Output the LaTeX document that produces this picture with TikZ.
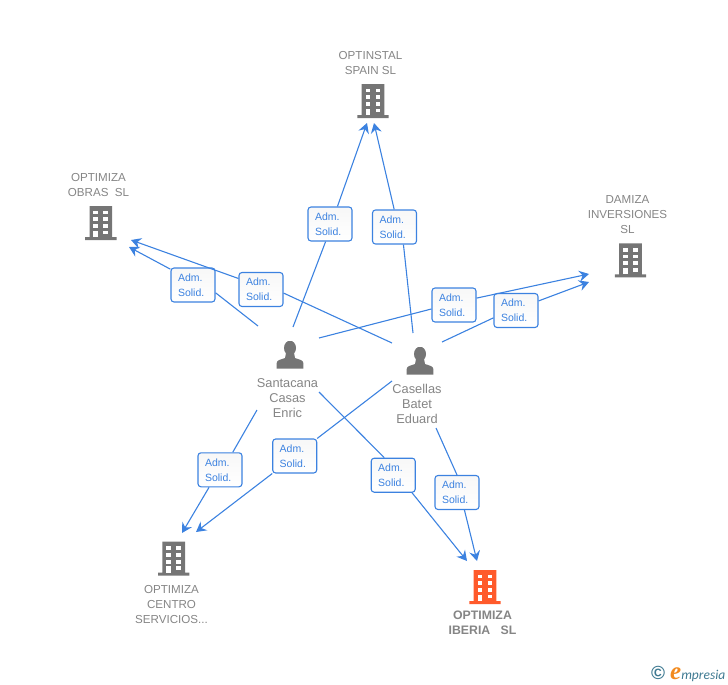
\documentclass[tikz,border=0pt]{standalone}
\usepackage{fontspec}
\setmainfont{Liberation Sans}
\newfontfamily\logofont{Liberation Serif}
\newfontfamily\logosans{Carlito}
\usetikzlibrary{arrows.meta}
\definecolor{linkblue}{HTML}{3C82E0}
\definecolor{iconGray}{HTML}{757575}
\definecolor{textGray}{HTML}{858585}
\definecolor{hotOrange}{HTML}{FF5A2B}
\definecolor{logoTeal}{HTML}{3F7A92}
\definecolor{logoOrange}{HTML}{F28A1E}

\begin{document}
\begin{tikzpicture}[x=1pt,y=-1pt,
tower/.style = {minimum width=32, minimum height=34, inner sep=0,
	path picture={
	\begin{scope}[shift={(path picture bounding box.center)}]
	\fill[#1] (-11.3,-17) rectangle (11.3,14) (-15.7,14) rectangle (15.7,17);
	\fill[white] (-7.4,7.6) rectangle (-2.6,14);
	\foreach \wy in {-12.4,-5.7,1} {
		\fill[white] (-7.4,\wy) rectangle ++(4.8,3.8);
		\fill[white] (2.6,\wy) rectangle ++(4.8,3.8);
	}
	\fill[white] (2.6,7.6) rectangle ++(4.8,3.8);
	\end{scope}}},
person/.style = {minimum width=28, minimum height=28, inner sep=0,
	path picture={
	\begin{scope}[shift={(path picture bounding box.center)}]
	\fill[iconGray] (0,-7) ellipse (6 and 7.3);
	\fill[iconGray] (-13.3,13.5) -- (-13.3,8) .. controls (-13.3,5) and (-9,4.5) .. (-5,3) -- (-4,-2)
		-- (4,-2) -- (5,3) .. controls (9,4.5) and (13.3,5) .. (13.3,8) -- (13.3,13.5) -- cycle;
	\end{scope}}},
solid/.style = {draw=linkblue, line width=1.1, top color=black!3, bottom color=white, rounded corners=3,
	minimum height=34, text width=30, inner xsep=7, inner ysep=2, align=left,
	text=linkblue, font=\fontsize{10.5}{15}\selectfont},
link/.style = {draw=linkblue, line width=1.1},
tip/.style = {link, -{Stealth[length=10,width=11,inset=3.5]}},
firm/.style = {text=textGray, align=center, inner sep=0, font=\fontsize{11.6}{15}\selectfont},
who/.style = {text=textGray, align=center, inner sep=0, font=\fontsize{12.8}{15}\selectfont}]

\useasboundingbox (0,0) rectangle (728,685);

% companies
\node (instal) at (373,101) [tower=iconGray] {};
\node (obras) at (100.8,223) [tower=iconGray] {};
\node (damiza) at (630.5,260.3) [tower=iconGray] {};
\node (centro) at (173.7,558.7) [tower=iconGray] {};
\node (iberia) at (485,587) [tower=hotOrange] {};

\node (instaltxt) at (370.5,63) [firm] {OPTINSTAL\\SPAIN SL};
\node (obrastxt) at (98.5,185) [firm] {OPTIMIZA\\OBRAS\ \ SL};
\node (damizatxt) at (627.5,215) [firm] {DAMIZA\\INVERSIONES\\SL};
\node (centrotxt) at (171.5,604) [firm] {OPTIMIZA\\CENTRO\\SERVICIOS...};
\node (iberiatxt) at (482.5,623) [firm, font=\fontsize{12.3}{15}\selectfont\bfseries] {OPTIMIZA\\IBERIA\ \ \ SL};

% people
\node (santa) at (290,355) [person] {};
\node (casel) at (420,361) [person] {};
\node (santatxt) at (287.5,398) [who] {Santacana\\Casas\\Enric};
\node (caseltxt) at (417,404) [who] {Casellas\\Batet\\Eduard};

% boxes on the links
\foreach \name/\pos in {a/{330,224}, b/{394.5,227}, c/{193,285}, d/{261,289.5}, e/{454,305},
	f/{516,310.5}, g/{220,469.8}, h/{294.7,456}, i/{393.2,475.2}, j/{457,492.5}}
	\node (box\name) at (\pos) [solid] {Adm.\\Solid.};

% free ends, and where each link meets its box
\foreach \name/\from/\in/\out/\to in {a/{293,327}/256.8/67.6/{367,123}, b/{413,333}/-63.4/91.7/{374,123},
	c/{258,326}/-19.3/145.7/{129,247}, d/{392,343}/-9/154.5/{131,240},
	e/{319,338}/190.3/17.7/{589,274}, f/{442,342}/198.1/23.4/{589,282},
	g/{257,410}/54.8/238.3/{182,533}, h/{392,381}/38/218/{196,532},
	i/{319,392}/117/-43.4/{467,561}, j/{436,428}/90/-67.6/{477,561}} {
	\coordinate (from\name) at (\from);
	\coordinate (to\name) at (\to);
	\draw[link] (from\name) -- (box\name.\in);
	\draw[tip] (box\name.\out) -- (to\name);
}

% logo
\node (logo) at (651,679) [anchor=base west, inner sep=0, text=logoTeal] {\fontsize{19}{19}\selectfont\bfseries\textcopyright\hspace{5pt}{\logofont\bfseries\itshape\fontsize{25}{25}\selectfont\textcolor{logoOrange}{e}}{\logosans\mdseries\itshape\fontsize{13.5}{13.5}\selectfont mpresia}};
\end{tikzpicture}
\end{document}
